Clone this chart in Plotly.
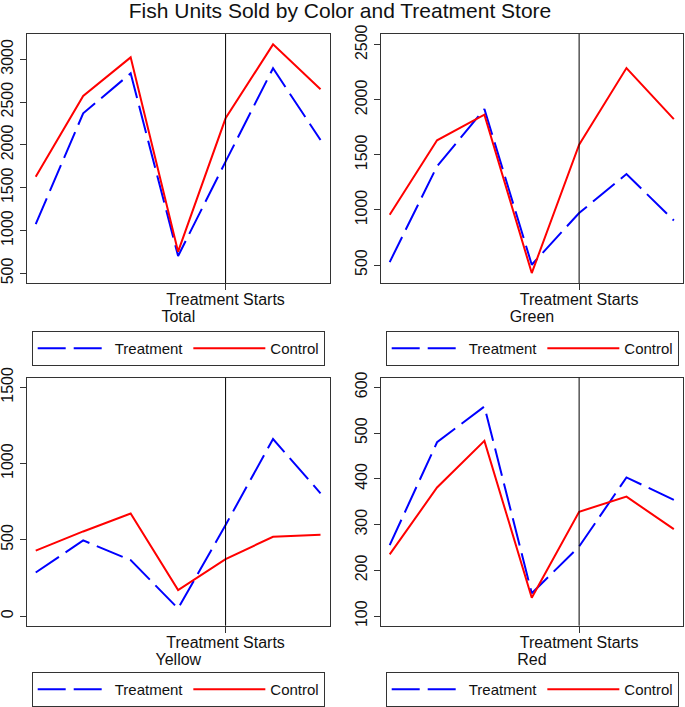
import plotly.graph_objects as go

periods = [0, 1, 2, 3, 4, 5, 6]
treatment_start = 4
panel_names = ["Total", "Green", "Yellow", "Red"]

total_treatment = [1076, 2369, 2836, 702, 1805, 2895, 2058]
total_control = [1629, 2572, 3023, 753, 2311, 3175, 2650]
green_treatment = [527, 1396, 1916, 503, 972, 1326, 905]
green_control = [957, 1632, 1865, 427, 1592, 2288, 1825]
yellow_treatment = [286, 496, 367, 50, 597, 1161, 805]
yellow_control = [429, 555, 673, 171, 374, 520, 534]
red_treatment = [255, 480, 558, 150, 252, 403, 354]
red_control = [235, 381, 483, 140, 328, 361, 290]

total_ticks = [500, 1000, 1500, 2000, 2500, 3000]
green_ticks = [500, 1000, 1500, 2000, 2500]
yellow_ticks = [0, 500, 1000, 1500]
red_ticks = [100, 200, 300, 400, 500, 600]

treat_series = [total_treatment, green_treatment, yellow_treatment, red_treatment]
ctrl_series = [total_control, green_control, yellow_control, red_control]
tick_sets = [total_ticks, green_ticks, yellow_ticks, red_ticks]
y_ranges = [[387, 3296], [337, 2597], [-63, 1563], [79, 621]]

W, H = 685, 707
FONT = "Liberation Sans, Arial, sans-serif"
TXT = "#111111"

# pixel boxes: (left, right, top, bottom)
boxes = [(26.7, 330, 34, 283), (380.7, 683.3, 34, 283),
         (26.7, 330, 377.7, 625.7), (380.7, 683.3, 377.7, 625.7)]
legend_pos = [(31.7, 331), (385.7, 331), (31.7, 672), (385.7, 672)]


def px_x(v):
    return v / W


def px_y(v):
    return 1 - v / H


fig = go.Figure()
for i in range(4):
    sfx = "" if i == 0 else str(i + 1)
    leg = "legend" if i == 0 else f"legend{i+1}"
    fig.add_trace(go.Scatter(x=periods, y=treat_series[i], mode="lines", name="Treatment",
                             line=dict(color="#0000ff", width=2, dash="28px,8px"),
                             xaxis="x" + sfx, yaxis="y" + sfx, legend=leg))
    fig.add_trace(go.Scatter(x=periods, y=ctrl_series[i], mode="lines", name="Control",
                             line=dict(color="#ff0000", width=2),
                             xaxis="x" + sfx, yaxis="y" + sfx, legend=leg))
    l, r, t, b = boxes[i]
    axcommon = dict(showline=True, mirror=True, linecolor="#333333", linewidth=1,
                    showgrid=False, zeroline=False, ticks="outside", ticklen=6,
                    tickcolor="#333333", automargin=False)
    fig.update_layout(**{
        "xaxis" + sfx: dict(domain=[px_x(l), px_x(r)], range=[-0.19, 6.2],
                            tickvals=[treatment_start], ticktext=["Treatment Starts"],
                            anchor="y" + sfx, ticklabelstandoff=-4,
                            tickfont=dict(size=16, color=TXT, family=FONT),
                            title=dict(text=panel_names[i], standoff=1,
                                       font=dict(size=16, color=TXT, family=FONT)),
                            **axcommon),
        "yaxis" + sfx: dict(domain=[px_y(b), px_y(t)], range=y_ranges[i],
                            tickvals=tick_sets[i], tickangle=-90, anchor="x" + sfx,
                            ticklabelstandoff=0,
                            tickfont=dict(size=16, color=TXT, family=FONT),
                            **axcommon),
    })
    fig.add_shape(type="line", xref="x" + sfx, yref="y" + sfx + " domain",
                  x0=treatment_start, x1=treatment_start, y0=0, y1=1,
                  line=dict(color="#000000", width=1))
    lx, ly = legend_pos[i]
    fig.update_layout(**{leg: dict(x=px_x(lx), y=px_y(ly), xanchor="left", yanchor="top",
                                   orientation="h", bordercolor="#333333", borderwidth=1,
                                   bgcolor="white", itemwidth=72,
                                   font=dict(size=15, color=TXT, family=FONT))})

fig.update_layout(
    width=W, height=H,
    margin=dict(l=0, r=0, t=0, b=0),
    paper_bgcolor="white", plot_bgcolor="white",
    title=dict(text="Fish Units Sold by Color and Treatment Store", x=px_x(340), xanchor="center",
               y=px_y(10.5), yanchor="middle", font=dict(size=21, color=TXT, family=FONT)),
    font=dict(family=FONT),
)

fig.write_html("out.html", config={"displayModeBar": False},
               post_script="document.body.style.margin='0';document.body.style.overflow='hidden';")
